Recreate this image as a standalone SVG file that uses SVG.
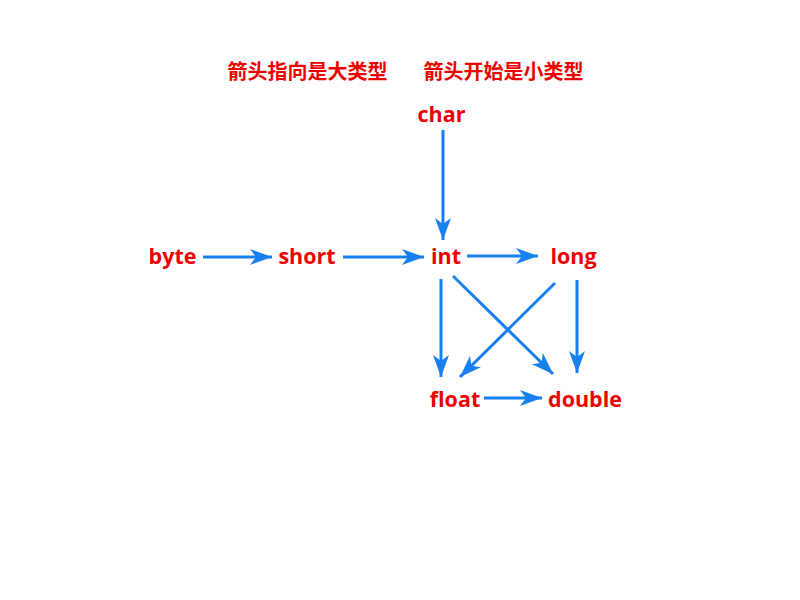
<svg xmlns="http://www.w3.org/2000/svg" width="800" height="600" viewBox="0 0 800 600">
<style>
text{font-family:"Open Sans","Noto Sans CJK SC","Liberation Sans",sans-serif;font-weight:bold;font-size:21.5px;fill:#ee0000;text-anchor:middle}
#titles text{font-family:"Noto Sans CJK SC",sans-serif;font-size:20px}
.c line{stroke:#1680f0;stroke-width:3;marker-end:url(#ah)}
</style>
<defs>
<marker id="ah" markerUnits="userSpaceOnUse" markerWidth="24" markerHeight="18" refX="22" refY="8" orient="auto">
<path d="M0,0 L22,8 L0,16 L6,8 Z" fill="#1680f0"/>
</marker>
</defs>
<rect width="800" height="600" fill="#fff"/>
<g id="titles">
<text x="307.5" y="79">箭头指向是大类型</text>
<text x="503.5" y="79">箭头开始是小类型</text>
</g>
<g id="char"><text x="441.5" y="122">char</text></g>
<g id="byte"><text x="172.5" y="264">byte</text></g>
<g id="short"><text x="307" y="264">short</text></g>
<g id="int"><text x="446" y="264">int</text></g>
<g id="long"><text x="573.5" y="264">long</text></g>
<g id="float"><text x="455" y="407">float</text></g>
<g id="double"><text x="585" y="407">double</text></g>
<g class="c" id="connectors">
<line x1="443" y1="130" x2="443" y2="240"/>
<line x1="203" y1="257" x2="272" y2="257"/>
<line x1="343" y1="257" x2="424" y2="257"/>
<line x1="467" y1="256" x2="538" y2="256"/>
<line x1="441" y1="279" x2="441" y2="377"/>
<line x1="453" y1="276" x2="553" y2="374"/>
<line x1="555" y1="283" x2="460" y2="377"/>
<line x1="577" y1="280" x2="577" y2="373"/>
<line x1="484" y1="398" x2="542" y2="398"/>
</g>
</svg>
